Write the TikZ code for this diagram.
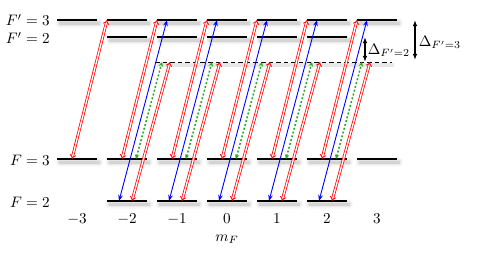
\documentclass[tikz,border=0pt]{standalone}
\usetikzlibrary{arrows.meta,calc,positioning,shadows.blur}
\definecolor{pumpgreen}{RGB}{40,170,40}
\begin{document}
\begin{tikzpicture}[x=0.66pt,y=-0.66pt,
  level/.style={rectangle,fill=black,inner sep=0pt,minimum width=26.4pt,minimum height=1.3pt,
    blur shadow={shadow xshift=1.5pt,shadow yshift=-2pt,shadow blur radius=2.5pt,shadow opacity=30}},
  redpump/.style={red,line width=0.5pt,double=white,double distance=0.9pt,{Implies}-{Implies}},
  bluepump/.style={blue,semithick,{Stealth[length=4pt,width=3pt]}-{Stealth[length=4pt,width=3pt]}},
  greenpump/.style={pumpgreen,line width=1pt,dash pattern=on 1.3pt off 1.3pt,
    {Stealth[length=3pt,width=3pt]}-{Stealth[length=3pt,width=3pt]}},
  detuning/.style={thick,{Latex[length=4pt]}-{Latex[length=4pt]}}]
\useasboundingbox (0,0) rectangle (498,254);
% hyperfine levels
\foreach \m in {-3,...,3} {
  \node[level] (Fp3\m) at ({227+50*\m},20) {};
  \node[level] (F3\m) at ({227+50*\m},159) {};
  \node (mF\m) at ({227+50*\m},219) {$\m$};
}
\foreach \m in {-2,...,2} {
  \node[level] (Fp2\m) at ({227+50*\m},37) {};
  \node[level] (F2\m) at ({227+50*\m},201) {};
}
\foreach \m in {-1,...,3}
  \coordinate (virt\m) at ({227+50*\m},62);
\draw[gray!30,line width=2.5pt,opacity=0.6] ($(virt-1)+(-20,3)$) -- ($(virt3)+(17,3)$);
\draw[dashed,dash pattern=on 3pt off 2pt] ($(virt-1)+(-22,0)$) -- ($(virt3)+(15,0)$);
\node[anchor=east] (lFp3) at (55,20) {$F'=3$};
\node[anchor=east] (lFp2) at (55,38) {$F'=2$};
\node[anchor=east] (lF3) at (55,160) {$F=3$};
\node[anchor=east] (lF2) at (55,202) {$F=2$};
\node (mFlabel) at (227,239) {$m_F$};
% transitions
\foreach \m in {-3,...,2} {
  \pgfmathtruncatemacro\n{\m+1}
  \draw[redpump] ($(F3\m)+(-5,0)$) -- ($(Fp3\n)+(-20,0)$);
}
\foreach \m in {-2,...,2} {
  \pgfmathtruncatemacro\n{\m+1}
  \draw[bluepump] ($(F2\m)+(-8,0)$) -- ($(Fp3\n)+(-10,0)$);
  \draw[redpump] ($(F2\m)+(5,0)$) -- ($(virt\n)+(-7,0)$);
  \draw[greenpump] ($(F3\m)+(9,0)$) -- ($(virt\n)+(-15,0)$);
}
% detunings
\coordinate (dtwoA) at (365,37);
\coordinate (dtwoB) at (365,62);
\coordinate (dthreeA) at (415,20);
\coordinate (dthreeB) at (415,60);
\draw[detuning] (dtwoA) -- (dtwoB);
\draw[detuning] (dthreeA) -- (dthreeB);
\node[anchor=west,inner sep=1pt] (ltwo) at (366,50) {$\Delta_{F'=2}$};
\node[anchor=west,inner sep=1pt] (lthree) at (417,42) {$\Delta_{F'=3}$};
\end{tikzpicture}
\end{document}
